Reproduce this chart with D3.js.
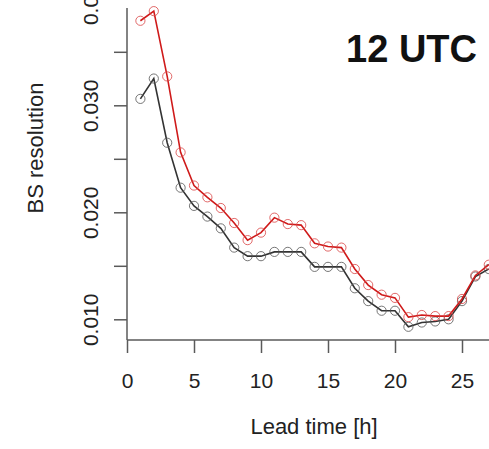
<!DOCTYPE html>
<html>
<head>
<meta charset="utf-8">
<script src="https://cdn.jsdelivr.net/npm/d3@7"></script>
<style>
html, body { margin: 0; padding: 0; background: #fff; }
svg { display: block; }
text { font-family: "Liberation Sans", Arial, Helvetica, sans-serif; }
</style>
</head>
<body>
<div id="chart"></div>
<script>
// ---- data ----
const leadTimes = [1,2,3,4,5,6,7,8,9,10,11,12,13,14,15,16,17,18,19,20,21,22,23,24,25,26,27];
const redSeries = [0.0379,0.0388,0.0327,0.0256,0.0225,0.0214,0.0204,0.0190,0.0174,0.0181,0.0195,0.0189,0.0188,0.0171,0.0168,0.0167,0.0147,0.0132,0.0123,0.0120,0.0102,0.0104,0.0103,0.0103,0.0119,0.0141,0.0151];
const blackSeries = [0.0306,0.0325,0.0265,0.0223,0.0206,0.0196,0.0185,0.0167,0.0159,0.0159,0.0163,0.0163,0.0163,0.0149,0.0149,0.0149,0.0129,0.0117,0.0108,0.0108,0.0093,0.0097,0.0098,0.0100,0.0117,0.0140,0.0147];
const xTicks = [0,5,10,15,20,25];
const yTicks = [0.010,0.015,0.020,0.025,0.030,0.035,0.040];
const yTickLabels = {"0.01":"0.010","0.02":"0.020","0.03":"0.030","0.04":"0.040"};
const title = "12 UTC";
const xLabel = "Lead time [h]";
const yLabel = "BS resolution";

// ---- layout ----
const W = 489, H = 449;
const axisX = 127, axisY = 340, topY = 8;
const svg = d3.select("#chart").append("svg").attr("width", W).attr("height", H);

const x = d3.scaleLinear().domain([0, 27]).range([axisX, 488.8]);
const y = d3.scaleLinear().domain([0.010, 0.040]).range([319.3, -1.7]);

const axisColor = "#5a5a5a";

// y axis
const yAxis = svg.append("g").attr("transform", `translate(${axisX},0)`)
  .call(d3.axisLeft(y).tickValues(yTicks).tickSize(13).tickPadding(0)
    .tickFormat(d => { const k = String(+d.toFixed(3)); return yTickLabels[k] || ""; }));
yAxis.select(".domain").remove();
yAxis.selectAll(".tick line").attr("stroke", axisColor).attr("stroke-width", 1.5);
yAxis.selectAll(".tick text")
  .attr("transform", d => `translate(-29,0) rotate(-90)`)
  .attr("x", 0).attr("y", 0).attr("dy", 0)
  .attr("text-anchor", "middle")
  .attr("font-size", 21).attr("fill", "#222")
  .attr("font-family", "Liberation Sans, Arial, sans-serif");
svg.append("line").attr("x1", axisX).attr("x2", axisX).attr("y1", topY).attr("y2", axisY)
  .attr("stroke", axisColor).attr("stroke-width", 1.5);

// x axis
const xAxis = svg.append("g").attr("transform", `translate(0,${axisY})`)
  .call(d3.axisBottom(x).tickValues(xTicks).tickSize(13).tickPadding(0).tickFormat(d3.format("d")));
xAxis.select(".domain").remove();
xAxis.selectAll(".tick line").attr("stroke", axisColor).attr("stroke-width", 1.5);
xAxis.selectAll(".tick text")
  .attr("y", 48).attr("dy", 0)
  .attr("font-size", 21).attr("fill", "#222")
  .attr("font-family", "Liberation Sans, Arial, sans-serif");
svg.append("line").attr("x1", axisX).attr("x2", W).attr("y1", axisY).attr("y2", axisY)
  .attr("stroke", axisColor).attr("stroke-width", 1.5);

// labels
svg.append("text").attr("x", 314).attr("y", 434).attr("text-anchor", "middle")
  .attr("font-size", 22).attr("fill", "#222").text(xLabel);
svg.append("text").attr("transform", "translate(43,148) rotate(-90)").attr("text-anchor", "middle")
  .attr("font-size", 22).attr("fill", "#222").text(yLabel);
svg.append("text").attr("x", 477).attr("y", 62).attr("text-anchor", "end")
  .attr("font-size", 38).attr("font-weight", "bold").attr("fill", "#111").text(title);

// series
const series = [
  { values: blackSeries, line: "#333333", circle: "#555555" },
  { values: redSeries, line: "#cf1a1a", circle: "#d94545" }
];
const line = d3.line().x((d, i) => x(leadTimes[i])).y(d => y(d));
series.forEach(s => {
  svg.append("path").datum(s.values).attr("d", line)
    .attr("fill", "none").attr("stroke", s.line).attr("stroke-width", 1.6);
  svg.append("g").selectAll("circle").data(s.values).join("circle")
    .attr("cx", (d, i) => x(leadTimes[i])).attr("cy", d => y(d)).attr("r", 4.6)
    .attr("fill", "none").attr("stroke", s.circle).attr("stroke-width", 1).attr("stroke-opacity", 0.8);
});
</script>
</body>
</html>
